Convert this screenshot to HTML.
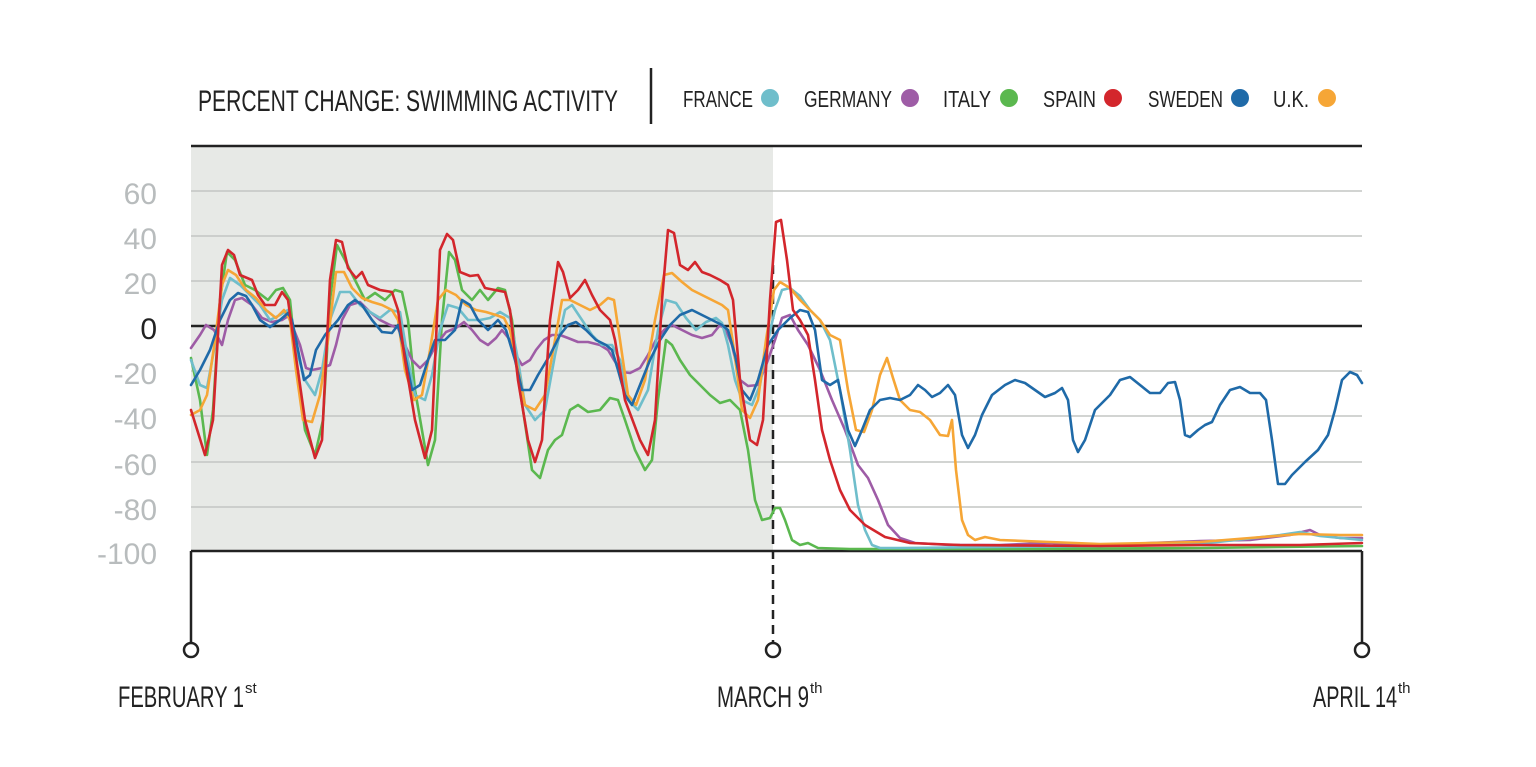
<!DOCTYPE html>
<html><head><meta charset="utf-8"><style>body{margin:0;background:#fff}svg{display:block}</style></head><body>
<svg width="1536" height="767" viewBox="0 0 1536 767" xmlns="http://www.w3.org/2000/svg" font-family="'Liberation Sans Narrow','Liberation Sans',sans-serif">
<rect x="191" y="146" width="582" height="405" fill="#e7e9e6"/>
<g stroke="#c4c6c4" stroke-width="1.5">
<line x1="191" y1="191" x2="1362" y2="191"/><line x1="191" y1="236" x2="1362" y2="236"/><line x1="191" y1="281" x2="1362" y2="281"/><line x1="191" y1="371" x2="1362" y2="371"/><line x1="191" y1="416" x2="1362" y2="416"/><line x1="191" y1="462" x2="1362" y2="462"/><line x1="191" y1="507" x2="1362" y2="507"/>
</g>
<g stroke="#222" stroke-width="2.5">
<line x1="191" y1="146" x2="1362" y2="146"/><line x1="191" y1="326" x2="1362" y2="326"/><line x1="191" y1="551" x2="1362" y2="551"/>
<line x1="191" y1="551" x2="191" y2="643"/><line x1="1362" y1="551" x2="1362" y2="643"/>
<line x1="773" y1="265" x2="773" y2="643" stroke-dasharray="9,6"/>
<line x1="651" y1="68" x2="651" y2="124"/>
</g>
<g fill="#fff" stroke="#222" stroke-width="2.5"><circle cx="191" cy="650" r="7"/><circle cx="773" cy="650" r="7"/><circle cx="1362" cy="650" r="7"/></g>
<g fill="#b8bcbd" font-size="30" text-anchor="end">
<text x="157" y="204">60</text><text x="157" y="249">40</text><text x="157" y="294">20</text><text x="157" y="339" fill="#222">0</text><text x="157" y="384">-20</text><text x="157" y="429">-40</text><text x="157" y="475">-60</text><text x="157" y="520">-80</text><text x="157" y="564">-100</text>
</g>
<text x="198" y="111" font-size="30" fill="#222" textLength="420" lengthAdjust="spacingAndGlyphs">PERCENT CHANGE: SWIMMING ACTIVITY</text>
<g font-size="23" fill="#222">
<text x="683" y="107" textLength="70" lengthAdjust="spacingAndGlyphs">FRANCE</text>
<text x="804" y="107" textLength="88" lengthAdjust="spacingAndGlyphs">GERMANY</text>
<text x="943" y="107" textLength="48" lengthAdjust="spacingAndGlyphs">ITALY</text>
<text x="1043" y="107" textLength="53" lengthAdjust="spacingAndGlyphs">SPAIN</text>
<text x="1148" y="107" textLength="75" lengthAdjust="spacingAndGlyphs">SWEDEN</text>
<text x="1273" y="107" textLength="36" lengthAdjust="spacingAndGlyphs">U.K.</text>
</g>
<circle cx="770" cy="98" r="9" fill="#6fbecb"/><circle cx="910" cy="98" r="9" fill="#9e5ca6"/><circle cx="1009" cy="98" r="9" fill="#5bb84f"/><circle cx="1113" cy="98" r="9" fill="#d3262c"/><circle cx="1240" cy="98" r="9" fill="#1f6aa8"/><circle cx="1327" cy="98" r="9" fill="#f6a636"/>
<g font-size="30" fill="#222">
<text x="118" y="707" textLength="126" lengthAdjust="spacingAndGlyphs">FEBRUARY 1</text><text x="245" y="693" font-size="15">st</text>
<text x="717" y="707" textLength="92" lengthAdjust="spacingAndGlyphs">MARCH 9</text><text x="810" y="693" font-size="15">th</text>
<text x="1313" y="707" textLength="84" lengthAdjust="spacingAndGlyphs">APRIL 14</text><text x="1398" y="693" font-size="15">th</text>
</g>
<g fill="none" stroke-width="2.6" stroke-linejoin="round" stroke-linecap="round">
<path stroke="#5bb84f" d="M191,358 L200,400 L207,455 L213,410 L220,300 L227,252 L235,260 L245,285 L255,290 L268,300 L276,290 L283,288 L290,300 L297,370 L305,430 L315,455 L323,420 L330,300 L337,245 L345,260 L355,280 L365,300 L375,293 L385,300 L395,290 L402,292 L408,320 L415,390 L428,465 L435,440 L442,320 L449,252 L455,260 L462,290 L472,300 L480,290 L488,300 L498,288 L505,290 L512,320 L520,390 L532,470 L540,478 L548,450 L555,440 L562,435 L570,410 L578,405 L588,412 L600,410 L610,398 L618,400 L625,420 L635,450 L645,470 L652,460 L658,400 L666,340 L672,345 L680,360 L690,375 L700,385 L710,395 L720,403 L730,400 L740,410 L748,450 L755,500 L762,520 L770,518 L775,508 L780,508 L785,520 L792,540 L800,545 L808,543 L818,548 L850,549 L1000,549 L1200,548 L1362,546"/>
<path stroke="#9e5ca6" d="M191,348 L200,335 L206,325 L214,330 L222,345 L228,320 L235,300 L242,298 L252,305 L262,318 L272,322 L282,320 L288,316 L292,325 L300,345 L306,368 L312,370 L322,368 L330,365 L336,345 L342,320 L350,305 L360,302 L370,312 L380,320 L390,325 L398,328 L405,345 L412,360 L420,368 L428,360 L436,345 L446,332 L456,328 L464,322 L472,330 L480,340 L488,345 L496,338 L502,330 L510,340 L516,355 L522,365 L530,360 L536,350 L544,340 L552,335 L560,335 L568,338 L578,342 L588,342 L600,345 L608,350 L614,360 L622,372 L630,373 L640,368 L648,355 L656,340 L664,330 L672,325 L682,330 L692,335 L702,338 L712,335 L720,325 L726,330 L732,345 L740,380 L748,386 L758,385 L768,360 L775,340 L782,318 L790,315 L798,330 L808,345 L820,370 L832,400 L845,430 L858,465 L868,478 L878,500 L888,525 L900,538 L915,543 L950,545 L1000,545 L1050,543 L1100,546 L1150,543 L1200,541 L1250,540 L1290,535 L1310,530 L1320,535 L1340,538 L1362,538"/>
<path stroke="#6fbecb" d="M191,360 L200,385 L207,388 L214,350 L222,300 L230,278 L240,285 L250,295 L260,305 L270,320 L280,315 L288,310 L295,345 L305,380 L315,395 L322,370 L330,320 L340,292 L350,292 L360,305 L370,312 L380,318 L390,310 L400,312 L408,360 L415,395 L425,400 L432,375 L440,330 L448,305 L458,308 L468,320 L480,320 L490,318 L500,312 L510,318 L518,360 L525,405 L535,420 L545,410 L555,355 L565,310 L572,305 L582,320 L592,335 L602,345 L612,345 L620,360 L628,400 L638,410 L648,390 L658,330 L666,300 L676,303 L686,318 L696,330 L706,322 L716,318 L722,323 L728,345 L735,380 L742,400 L752,405 L760,385 L768,340 L775,310 L782,290 L790,288 L800,296 L810,310 L820,320 L830,340 L840,390 L850,450 L858,505 L865,530 L872,545 L880,548 L900,548 L1000,547 L1100,546 L1200,544 L1280,535 L1300,532 L1320,536 L1362,540"/>
<path stroke="#f6a636" d="M191,415 L200,410 L207,395 L215,340 L222,285 L228,270 L236,275 L246,290 L256,298 L266,310 L276,318 L284,310 L290,320 L296,370 L303,420 L312,422 L320,395 L328,340 L336,272 L344,272 L352,288 L362,298 L372,302 L382,305 L392,310 L398,320 L405,370 L414,400 L422,395 L430,350 L438,300 L446,290 L456,295 L466,305 L476,310 L486,312 L496,315 L504,318 L510,330 L518,370 L525,405 L535,410 L545,395 L555,340 L562,300 L570,300 L580,305 L590,310 L600,305 L608,298 L614,300 L620,340 L628,395 L636,405 L645,380 L655,320 L664,275 L672,273 L682,282 L692,290 L702,295 L712,300 L722,305 L728,310 L734,350 L742,410 L750,418 L758,400 L766,340 L774,290 L780,282 L790,288 L800,300 L810,310 L820,320 L830,335 L840,340 L848,390 L856,430 L864,432 L872,410 L880,375 L887,358 L893,378 L900,400 L910,410 L920,412 L930,420 L940,435 L948,436 L952,420 L956,470 L962,520 L968,535 L975,540 L985,537 L1000,540 L1050,542 L1100,544 L1150,543 L1200,542 L1250,538 L1300,534 L1340,535 L1362,535"/>
<path stroke="#1f6aa8" d="M191,385 L200,370 L210,350 L220,320 L230,300 L238,293 L246,296 L252,305 L260,320 L270,327 L280,320 L288,313 L292,320 L298,350 L304,380 L310,375 L316,350 L325,335 L338,320 L348,305 L355,300 L362,305 L372,320 L382,332 L392,333 L398,325 L404,350 L412,390 L420,385 L428,360 L435,340 L445,340 L455,330 L462,300 L470,305 L478,320 L488,330 L498,320 L506,330 L515,360 L522,390 L530,390 L538,375 L550,355 L560,335 L568,325 L576,322 L586,330 L596,340 L606,345 L612,350 L618,370 L625,395 L632,405 L640,385 L650,360 L660,340 L670,325 L680,315 L692,310 L702,315 L712,320 L722,325 L728,330 L735,355 L742,390 L750,400 L758,380 L768,345 L778,330 L790,318 L800,310 L808,312 L815,330 L822,380 L830,385 L838,380 L848,430 L855,446 L862,430 L870,410 L880,400 L890,398 L900,400 L910,395 L918,385 L925,390 L932,397 L940,393 L948,385 L955,395 L962,435 L968,448 L975,435 L982,415 L992,395 L1005,385 L1015,380 L1025,383 L1035,390 L1045,397 L1055,393 L1062,388 L1068,400 L1073,440 L1078,452 L1085,440 L1095,410 L1110,395 L1120,380 L1130,377 L1140,385 L1150,393 L1160,393 L1168,383 L1175,382 L1180,400 L1185,435 L1190,437 L1198,430 L1205,425 L1212,422 L1220,405 L1230,390 L1240,387 L1250,393 L1260,393 L1266,400 L1272,440 L1278,484 L1285,484 L1292,475 L1305,462 L1318,450 L1328,435 L1335,410 L1342,380 L1350,372 L1357,375 L1362,383"/>
<path stroke="#d3262c" d="M191,410 L205,455 L213,420 L222,265 L228,250 L234,255 L240,275 L252,280 L258,295 L265,305 L275,305 L282,292 L288,300 L295,350 L305,420 L315,458 L322,440 L330,280 L336,240 L342,242 L348,268 L356,278 L362,272 L368,285 L380,290 L392,292 L398,310 L405,360 L415,420 L425,458 L432,430 L440,250 L447,234 L453,240 L460,272 L470,276 L478,275 L485,288 L495,290 L505,292 L510,310 L518,380 L528,440 L535,462 L542,440 L550,320 L558,262 L563,272 L570,298 L578,290 L585,280 L592,295 L600,310 L610,320 L615,340 L625,400 L640,440 L648,455 L655,420 L662,300 L668,230 L674,233 L680,265 L688,270 L695,262 L702,272 L710,275 L720,280 L728,285 L733,300 L740,380 L750,440 L757,445 L763,420 L770,300 L776,222 L781,220 L787,260 L793,310 L800,320 L808,335 L815,380 L822,430 L830,460 L840,490 L850,510 L865,525 L885,537 L910,543 L960,545 L1100,546 L1200,545 L1300,545 L1362,543"/>
</g>
</svg>
</body></html>
